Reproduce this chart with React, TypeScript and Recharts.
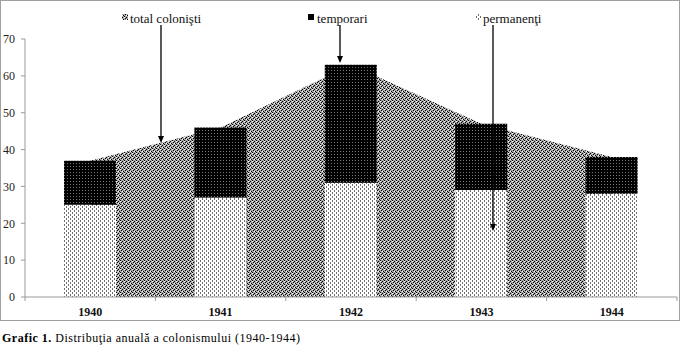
import { ComposedChart, Bar, Area, XAxis, YAxis } from "recharts";

const years = ["1940", "1941", "1942", "1943", "1944"];
const permanenti = [25, 27, 31, 29, 28];
const temporari = [12, 19, 32, 18, 10];
const totalColonisti = [37, 46, 63, 47, 38];
const yTicks = [0, 10, 20, 30, 40, 50, 60, 70];

const data = years.map((year, i) => ({
  year,
  perm: permanenti[i],
  temp: temporari[i],
  total: totalColonisti[i],
}));

const SERIF = '"Liberation Serif", "Times New Roman", serif';
const CAT_W = 652 / 5;

function YearTick(props: any) {
  const { x, y, payload, index } = props;
  return (
    <g>
      <line x1={x - CAT_W / 2} x2={x - CAT_W / 2} y1={y} y2={y + 4} stroke="#9a9a9a" />
      {index === years.length - 1 && (
        <line x1={x + CAT_W / 2} x2={x + CAT_W / 2} y1={y} y2={y + 4} stroke="#9a9a9a" />
      )}
      <text
        x={x}
        y={y + 19}
        textAnchor="middle"
        fontFamily={SERIF}
        fontSize={12}
        fontWeight="bold"
        fill="#111"
      >
        {payload.value}
      </text>
    </g>
  );
}

function Patterns({ prefix }: { prefix: string }) {
  return (
    <defs>
      <pattern id={prefix + "perm"} width="4" height="4" patternUnits="userSpaceOnUse">
        <rect width="4" height="4" fill="#fff" />
        <rect x="0" y="0" width="1" height="2" fill="#6e6e6e" />
        <rect x="2" y="2" width="1" height="2" fill="#6e6e6e" />
      </pattern>
      <pattern id={prefix + "area"} width="4" height="4" patternUnits="userSpaceOnUse">
        <rect width="4" height="4" fill="#a8a8a8" />
        <rect x="0" y="0" width="1" height="1" fill="#000" />
        <rect x="2" y="1" width="1" height="1" fill="#000" />
        <rect x="1" y="2" width="1" height="1" fill="#000" />
        <rect x="3" y="3" width="1" height="1" fill="#000" />
        <rect x="2" y="3" width="1" height="1" fill="#fff" />
        <rect x="0" y="1" width="1" height="1" fill="#fff" />
      </pattern>
      <pattern id={prefix + "temp"} width="3" height="3" patternUnits="userSpaceOnUse">
        <rect width="3" height="3" fill="#000" />
        <rect x="1" y="1" width="1" height="1" fill="#777" />
      </pattern>
    </defs>
  );
}

function Arrow({ x, y1, y2 }: { x: number; y1: number; y2: number }) {
  return (
    <g>
      <line x1={x} x2={x} y1={y1} y2={y2 - 5} stroke="#000" strokeWidth={1.3} />
      <path d={`M${x - 3},${y2 - 7} L${x + 3},${y2 - 7} L${x},${y2} Z`} fill="#000" />
    </g>
  );
}

export default function App() {
  return (
    <div style={{ position: "relative", width: 682, height: 354, background: "#fff" }}>
      <style>{`body{margin:0}`}</style>
      <div
        style={{
          position: "absolute",
          left: 0,
          top: 0,
          width: 678,
          height: 319,
          border: "1px solid #a0a0a0",
        }}
      />
      <div style={{ position: "absolute", left: 0, top: 0 }}>
        <ComposedChart
          width={682}
          height={321}
          data={data}
          margin={{ top: 39, right: 5, bottom: 2, left: 0 }}
        >
          <Patterns prefix="c-" />
          <XAxis
            dataKey="year"
            height={22}
            axisLine={{ stroke: "#9a9a9a" }}
            tickLine={false}
            tickSize={0}
            tickMargin={0}
            tick={<YearTick />}
            interval={0}
          />
          <YAxis
            width={25}
            domain={[0, 70]}
            ticks={yTicks}
            axisLine={{ stroke: "#9a9a9a" }}
            tickLine={{ stroke: "#9a9a9a" }}
            tickSize={4}
            tickMargin={6}
            tick={{ fontFamily: SERIF, fontSize: 12, fill: "#222" }}
          />
          <Area
            type="linear"
            dataKey="total"
            stroke="none"
            fill="url(#c-area)"
            fillOpacity={1}
            isAnimationActive={false}
          />
          <Bar dataKey="perm" stackId="a" barSize={52} fill="url(#c-perm)" isAnimationActive={false} />
          <Bar dataKey="temp" stackId="a" barSize={52} fill="url(#c-temp)" isAnimationActive={false} />
        </ComposedChart>
      </div>
      <svg
        width={682}
        height={321}
        style={{ position: "absolute", left: 0, top: 0, pointerEvents: "none" }}
      >
        <Patterns prefix="l-" />
        <g fontFamily={SERIF} fontSize={13} fill="#111">
          <rect x={122} y={14} width={6} height={6} fill="url(#l-area)" />
          <text x={130} y={23}>total colonişti</text>
          <rect x={308} y={14} width={6} height={6} fill="#000" />
          <text x={317} y={23}>temporari</text>
          <rect x={475} y={14} width={6} height={6} fill="url(#l-perm)" />
          <text x={483} y={23}>permanenţi</text>
        </g>
        <Arrow x={161} y1={25} y2={143} />
        <Arrow x={340} y1={25} y2={63} />
        <Arrow x={493} y1={25} y2={231} />
      </svg>
      <div
        style={{
          position: "absolute",
          left: 2,
          top: 331,
          fontFamily: SERIF,
          fontSize: 12,
          letterSpacing: 0.5,
          color: "#000",
          whiteSpace: "nowrap",
        }}
      >
        <b>Grafic 1.</b> Distribuţia anuală a colonismului (1940-1944)
      </div>
    </div>
  );
}
